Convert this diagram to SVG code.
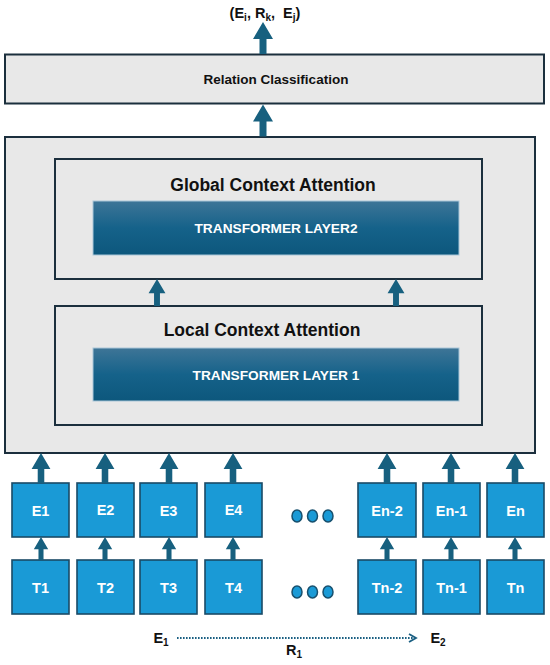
<svg xmlns="http://www.w3.org/2000/svg" width="550" height="665" viewBox="0 0 550 665">
<style>
text{font-family:"Liberation Sans",Arial,sans-serif;font-weight:bold;text-anchor:middle}
.panel{fill:#e8e8e8;stroke:#1b2f3d;stroke-width:2}
.tl{fill:url(#tg);stroke:#a9c6d8;stroke-width:1}
.tok{fill:#1a9ad6;stroke:#1a4a66;stroke-width:1.6}
.wt{fill:#ffffff;font-size:14.5px}
.arr{fill:#17607f}
.dot{fill:#1a9ad6;stroke:#17506e;stroke-width:1.5}
</style>
<defs>
<linearGradient id="tg" x1="0" y1="0" x2="0" y2="1">
<stop offset="0" stop-color="#3e7597"/>
<stop offset="0.5" stop-color="#15628a"/>
<stop offset="1" stop-color="#0d577c"/>
</linearGradient>
<symbol id="up" viewBox="0 0 20 32" overflow="visible">
<path d="M10 0 L20 17 L13.5 17 L13.5 32 L6.5 32 L6.5 17 L0 17 Z"/>
</symbol>
<marker id="chev" markerWidth="10" markerHeight="10" refX="8" refY="5" orient="auto" markerUnits="userSpaceOnUse">
<path d="M1 1 L8 5 L1 9" fill="none" stroke="#1a5f82" stroke-width="1.8"/>
</marker>
</defs>
<rect width="550" height="665" fill="#ffffff"/>

<g id="output">
<text x="265" y="18" font-size="14.5" fill="#111">(E<tspan font-size="10" dy="3">i</tspan><tspan dy="-3">, R</tspan><tspan font-size="10" dy="3">k</tspan><tspan dy="-3">,&#160; E</tspan><tspan font-size="10" dy="3">j</tspan><tspan dy="-3">)</tspan></text>
</g>

<g id="relation">
<rect class="panel" x="5" y="54.5" width="539" height="49"/>
<text x="276" y="84" font-size="13.5" fill="#111">Relation Classification</text>
</g>

<g id="encoder">
<rect class="panel" x="5" y="137" width="530" height="316"/>
</g>

<g id="global">
<rect class="panel" x="55" y="159" width="427" height="120" fill="none"/>
<text x="273" y="191" font-size="17.5" fill="#111">Global Context Attention</text>
<rect class="tl" x="93" y="201" width="366" height="54"/>
<text class="wt" x="276" y="233" style="font-size:13.7px">TRANSFORMER LAYER2</text>
</g>

<g id="local">
<rect class="panel" x="55" y="306" width="427" height="119" fill="none"/>
<text x="262" y="336" font-size="17.5" fill="#111">Local Context Attention</text>
<rect class="tl" x="93" y="348" width="366" height="53"/>
<text class="wt" x="276" y="380" style="font-size:13.7px">TRANSFORMER LAYER 1</text>
</g>

<g id="E1"><rect class="tok" x="12" y="483" width="57" height="54"/><text class="wt" x="40.5" y="516">E1</text></g>
<g id="E2"><rect class="tok" x="77" y="483" width="57" height="54"/><text class="wt" x="105.5" y="515">E2</text></g>
<g id="E3"><rect class="tok" x="140" y="483" width="57" height="54"/><text class="wt" x="168.5" y="516">E3</text></g>
<g id="E4"><rect class="tok" x="205" y="483" width="57" height="54"/><text class="wt" x="233.5" y="515">E4</text></g>
<g id="En-2"><rect class="tok" x="358" y="483" width="58" height="54"/><text class="wt" x="387" y="516">En-2</text></g>
<g id="En-1"><rect class="tok" x="423" y="483" width="57" height="54"/><text class="wt" x="451.5" y="516">En-1</text></g>
<g id="En"><rect class="tok" x="487" y="483" width="57" height="54"/><text class="wt" x="515.5" y="516">En</text></g>

<g id="T1"><rect class="tok" x="12" y="560" width="57" height="54"/><text class="wt" x="40.5" y="593">T1</text></g>
<g id="T2"><rect class="tok" x="77" y="560" width="57" height="54"/><text class="wt" x="105.5" y="593">T2</text></g>
<g id="T3"><rect class="tok" x="140" y="560" width="57" height="54"/><text class="wt" x="168.5" y="593">T3</text></g>
<g id="T4"><rect class="tok" x="205" y="560" width="57" height="54"/><text class="wt" x="233.5" y="593">T4</text></g>
<g id="Tn-2"><rect class="tok" x="358" y="560" width="58" height="54"/><text class="wt" x="387" y="593">Tn-2</text></g>
<g id="Tn-1"><rect class="tok" x="423" y="560" width="57" height="54"/><text class="wt" x="451.5" y="593">Tn-1</text></g>
<g id="Tn"><rect class="tok" x="487" y="560" width="57" height="54"/><text class="wt" x="515.5" y="593">Tn</text></g>

<g id="ellipsis">
<ellipse class="dot" cx="297" cy="516" rx="5" ry="6"/>
<ellipse class="dot" cx="312.5" cy="516" rx="5" ry="6"/>
<ellipse class="dot" cx="328" cy="516" rx="5" ry="6"/>
<ellipse class="dot" cx="297" cy="592" rx="5" ry="6"/>
<ellipse class="dot" cx="312.5" cy="592" rx="5" ry="6"/>
<ellipse class="dot" cx="328" cy="592" rx="5" ry="6"/>
</g>

<g id="connectors" class="arr">
<use href="#up" x="253" y="22" width="20" height="32"/>
<use href="#up" x="253" y="104.5" width="20" height="32"/>
<use href="#up" x="147" y="279" width="20" height="27"/>
<use href="#up" x="386" y="279" width="20" height="27"/>
<use href="#up" x="31" y="453" width="20" height="30"/>
<use href="#up" x="95" y="453" width="20" height="30"/>
<use href="#up" x="159" y="453" width="20" height="30"/>
<use href="#up" x="223" y="453" width="20" height="30"/>
<use href="#up" x="377" y="453" width="20" height="30"/>
<use href="#up" x="441" y="453" width="20" height="30"/>
<use href="#up" x="505" y="453" width="20" height="30"/>
<use href="#up" x="31" y="537" width="20" height="23"/>
<use href="#up" x="95" y="537" width="20" height="23"/>
<use href="#up" x="159" y="537" width="20" height="23"/>
<use href="#up" x="223" y="537" width="20" height="23"/>
<use href="#up" x="377" y="537" width="20" height="23"/>
<use href="#up" x="441" y="537" width="20" height="23"/>
<use href="#up" x="505" y="537" width="20" height="23"/>
<line x1="177" y1="638" x2="416" y2="638" stroke="#1a5f82" stroke-width="2.2" stroke-dasharray="1.6 1.4" marker-end="url(#chev)"/>
</g>

<g id="relation-example">
<text x="161" y="643" font-size="14.5" fill="#111">E<tspan font-size="10" dy="3">1</tspan></text>
<text x="438" y="643" font-size="14.5" fill="#111">E<tspan font-size="10" dy="3">2</tspan></text>
<text x="294" y="655" font-size="14.5" fill="#111">R<tspan font-size="10" dy="3">1</tspan></text>
</g>
</svg>
